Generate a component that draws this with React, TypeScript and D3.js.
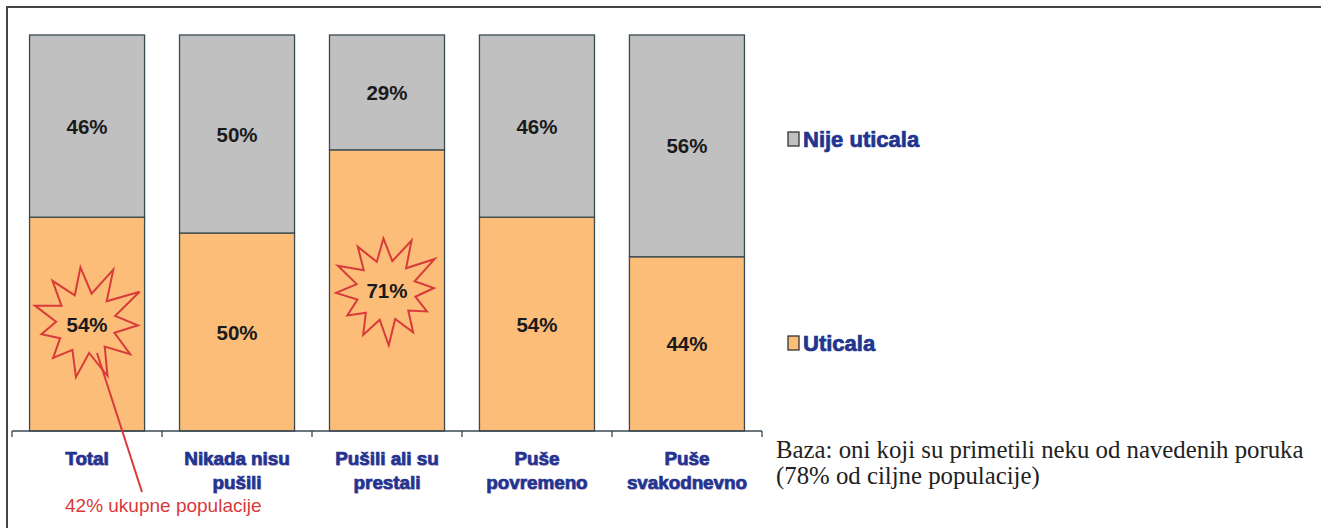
import React from "react";
import * as d3 from "d3";

const categories: string[][] = [
  ["Total"],
  ["Nikada nisu", "pušili"],
  ["Pušili ali su", "prestali"],
  ["Puše", "povremeno"],
  ["Puše", "svakodnevno"],
];
const uticala = [54, 50, 71, 54, 44];
const nijeUticala = [46, 50, 29, 46, 56];
const seriesNames = ["Uticala", "Nije uticala"];
const seriesColors = ["#fbbd78", "#c0c0c0"];
const noteLines = [
  "Baza: oni koji su primetili neku od navedenih poruka",
  "(78% od ciljne populacije)",
];
const calloutText = "42% ukupne populacije";

// starburst shapes (relative radii per spike)
const star1 = [56, 60, 62, 52, 54, 57, 55, 48, 46, 54, 54];
const star2 = [52, 56, 58, 48, 46, 50, 55, 50, 46, 50, 54, 52];

function starPath(cx: number, cy: number, radii: number[], inner: number, rot: number) {
  const n = radii.length;
  const pts: [number, number][] = [];
  for (let i = 0; i < n; i++) {
    const a1 = rot + (i / n) * Math.PI * 2;
    const a2 = rot + ((i + 0.5) / n) * Math.PI * 2;
    pts.push([cx + radii[i] * Math.sin(a1), cy - radii[i] * Math.cos(a1)]);
    pts.push([cx + inner * Math.sin(a2), cy - inner * Math.cos(a2)]);
  }
  return d3.line()(pts) + "Z";
}

export default function App() {
  const W = 1321, H = 528;
  const x0 = 12, x1 = 762;
  const yTop = 35, yBot = 431;
  const x = d3.scaleBand<number>().domain(d3.range(categories.length)).range([x0, x1]).paddingInner(0.233).paddingOuter(0.117);
  const y = d3.scaleLinear().domain([0, 100]).range([yBot, yTop]);
  const bw = x.bandwidth();
  const valueFont = "'Liberation Sans', Arial, sans-serif";

  return (
    <svg width={W} height={H} style={{ position: "absolute", left: 0, top: 0 }}>
      <rect x={0} y={0} width={W} height={H} fill="#fff" />
      <path d={`M7,${H} L7,7 L${W},7`} fill="none" stroke="#444" strokeWidth={2} />
      {categories.map((c, i) => {
        const bx = x(i)!;
        const yU = y(uticala[i]);
        const yN = y(uticala[i] + nijeUticala[i]);
        return (
          <g key={i}>
            <rect x={bx} y={yU} width={bw} height={yBot - yU} fill={seriesColors[0]} stroke="#3a4a50" strokeWidth={1.3} />
            <rect x={bx} y={yN} width={bw} height={yU - yN} fill={seriesColors[1]} stroke="#3a4a50" strokeWidth={1.3} />
            <text x={bx + bw / 2} y={(yU + yBot) / 2} textAnchor="middle" dominantBaseline="central" fontFamily={valueFont} fontSize={20.5} fontWeight="bold" fill="#1a1a1a">{uticala[i]}%</text>
            <text x={bx + bw / 2} y={(yU + yN) / 2} textAnchor="middle" dominantBaseline="central" fontFamily={valueFont} fontSize={20.5} fontWeight="bold" fill="#1a1a1a">{nijeUticala[i]}%</text>
            {c.map((line, j) => (
              <g key={j}>
                <text x={bx + bw / 2 + 1} y={458 + j * 24 + 1} textAnchor="middle" dominantBaseline="central" fontFamily={valueFont} fontSize={18.8} fontWeight="bold" fill="#c9a0c8" opacity={0.6}>{line}</text>
                <text x={bx + bw / 2} y={458 + j * 24} textAnchor="middle" dominantBaseline="central" fontFamily={valueFont} fontSize={18.8} fontWeight="bold" fill="#22348f" stroke="#22348f" strokeWidth={0.7}>{line}</text>
              </g>
            ))}
          </g>
        );
      })}
      {/* axis */}
      <line x1={x0} x2={x1} y1={yBot} y2={yBot} stroke="#3a4a50" strokeWidth={1.3} />
      {d3.range(categories.length + 1).map((i) => {
        const tx = x0 + (i * (x1 - x0)) / categories.length;
        return <line key={i} x1={tx} x2={tx} y1={yBot} y2={yBot + 6} stroke="#3a4a50" strokeWidth={1.3} />;
      })}
      {/* starbursts */}
      <path d={starPath(x(0)! + bw / 2 - 1, (y(uticala[0]) + yBot) / 2 - 1, star1, 30, -0.1)} fill="none" stroke="#d93a3a" strokeWidth={2} />
      <path d={starPath(x(2)! + bw / 2 - 1, (y(uticala[2]) + yBot) / 2, star2, 30, -0.05)} fill="none" stroke="#d93a3a" strokeWidth={2} />
      <line x1={97} y1={353} x2={142} y2={492} stroke="#d93a3a" strokeWidth={2} />
      <text x={65} y={505} dominantBaseline="central" fontFamily={valueFont} fontSize={19} fill="#d93a3a">{calloutText}</text>
      {/* legend */}
      {[1, 0].map((s, k) => {
        const ly = k === 0 ? 139 : 343;
        return (
          <g key={s}>
            <rect x={788} y={ly - 7} width={11} height={14} fill={seriesColors[s]} stroke="#333" strokeWidth={1.3} />
            <text x={803} y={ly} dominantBaseline="central" fontFamily={valueFont} fontSize={22} fontWeight="bold" fill="#22348f" stroke="#22348f" strokeWidth={0.7}>{seriesNames[s]}</text>
          </g>
        );
      })}
      {noteLines.map((t, i) => (
        <text key={i} x={776} y={449 + i * 26} dominantBaseline="central" fontFamily="'Liberation Serif', 'Times New Roman', serif" fontSize={24.8} fill="#222">{t}</text>
      ))}
    </svg>
  );
}
